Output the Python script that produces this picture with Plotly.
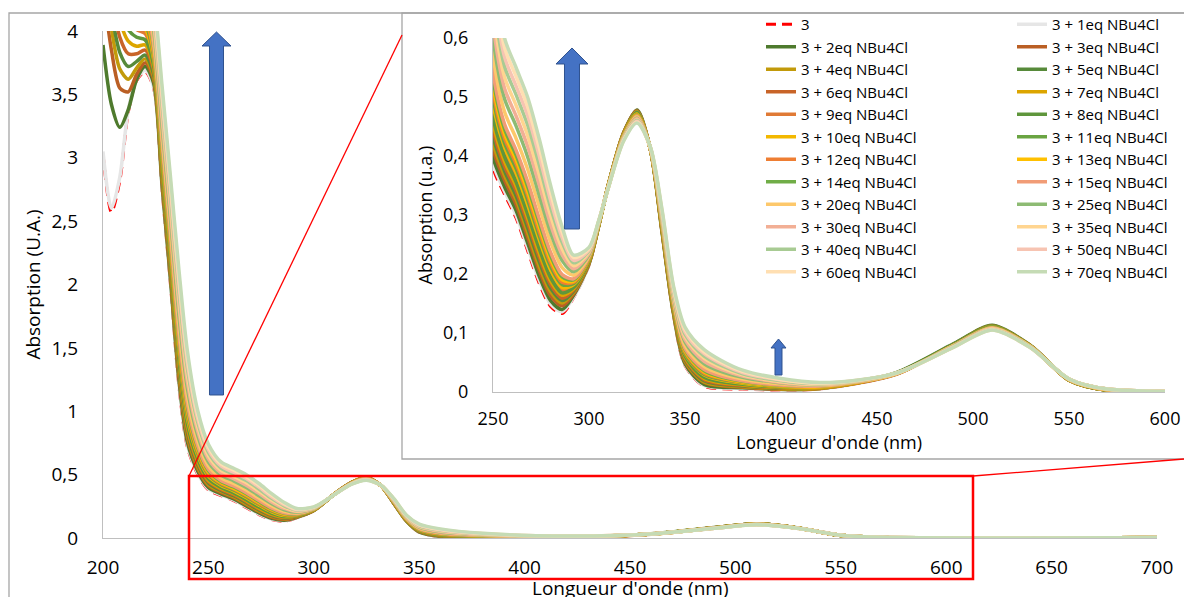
import plotly.graph_objects as go

# ---------------- data ----------------
wavelength_nm = [200, 204, 208, 212, 216, 220, 224, 228, 232, 236, 240, 245, 250, 256, 262, 268, 274, 280,
                 286, 292, 300, 305, 310, 318, 325, 332, 338, 344, 350, 360, 380, 420, 460, 490, 510, 530,
                 550, 570, 700]

abs_3 = [3.03, 2.57, 2.82, 3.36, 3.61, 3.68, 3.55, 2.75, 2.00, 1.20, 0.72, 0.50, 0.38, 0.335, 0.295, 0.24, 0.185, 0.145, 0.133, 0.16, 0.215, 0.28, 0.35, 0.44, 0.477, 0.41, 0.27, 0.13, 0.045, 0.010, 0.005, 0.005, 0.030, 0.080, 0.111, 0.078, 0.020, 0.003, 0.002]
abs_1eq = [3.05, 2.60, 2.85, 3.38, 3.62, 3.69, 3.56, 2.77, 2.02, 1.22, 0.735, 0.51, 0.387, 0.340, 0.300, 0.245, 0.190, 0.149, 0.136, 0.161, 0.216, 0.280, 0.350, 0.440, 0.477, 0.410, 0.271, 0.131, 0.046, 0.011, 0.006, 0.005, 0.030, 0.080, 0.111, 0.078, 0.020, 0.003, 0.002]
abs_2eq = [3.89, 3.42, 3.24, 3.38, 3.62, 3.72, 3.59, 2.79, 2.04, 1.25, 0.758, 0.525, 0.398, 0.348, 0.308, 0.253, 0.197, 0.155, 0.140, 0.164, 0.217, 0.281, 0.350, 0.439, 0.478, 0.411, 0.272, 0.133, 0.048, 0.013, 0.007, 0.006, 0.033, 0.082, 0.113, 0.079, 0.021, 0.003, 0.002]
abs_3eq = [4.35, 3.85, 3.55, 3.52, 3.66, 3.75, 3.62, 2.82, 2.08, 1.28, 0.788, 0.545, 0.412, 0.359, 0.318, 0.263, 0.207, 0.163, 0.146, 0.166, 0.218, 0.281, 0.350, 0.439, 0.477, 0.411, 0.274, 0.135, 0.051, 0.016, 0.008, 0.006, 0.031, 0.081, 0.112, 0.078, 0.020, 0.003, 0.002]
abs_4eq = [4.55, 4.02, 3.70, 3.62, 3.71, 3.78, 3.64, 2.85, 2.10, 1.31, 0.811, 0.56, 0.423, 0.367, 0.326, 0.271, 0.214, 0.170, 0.151, 0.169, 0.219, 0.281, 0.350, 0.438, 0.476, 0.411, 0.275, 0.136, 0.053, 0.017, 0.009, 0.006, 0.031, 0.081, 0.112, 0.078, 0.020, 0.003, 0.002]
abs_5eq = [4.65, 4.15, 3.83, 3.72, 3.76, 3.81, 3.66, 2.87, 2.13, 1.34, 0.834, 0.575, 0.434, 0.375, 0.333, 0.279, 0.222, 0.176, 0.155, 0.171, 0.220, 0.282, 0.350, 0.438, 0.476, 0.411, 0.276, 0.138, 0.055, 0.019, 0.010, 0.007, 0.032, 0.081, 0.112, 0.078, 0.021, 0.003, 0.002]
abs_6eq = [4.75, 4.28, 3.95, 3.82, 3.82, 3.85, 3.69, 2.90, 2.15, 1.37, 0.857, 0.59, 0.445, 0.383, 0.341, 0.287, 0.229, 0.182, 0.159, 0.173, 0.220, 0.282, 0.350, 0.437, 0.475, 0.411, 0.277, 0.139, 0.057, 0.021, 0.011, 0.007, 0.030, 0.080, 0.111, 0.078, 0.020, 0.003, 0.002]
abs_7eq = [4.85, 4.40, 4.08, 3.92, 3.88, 3.89, 3.71, 2.92, 2.18, 1.39, 0.880, 0.605, 0.456, 0.391, 0.349, 0.295, 0.236, 0.188, 0.164, 0.175, 0.221, 0.282, 0.350, 0.437, 0.475, 0.411, 0.278, 0.141, 0.059, 0.023, 0.012, 0.007, 0.031, 0.080, 0.111, 0.078, 0.020, 0.003, 0.002]
abs_9eq = [5.00, 4.60, 4.30, 4.10, 4.01, 3.98, 3.75, 2.97, 2.23, 1.45, 0.925, 0.635, 0.477, 0.407, 0.364, 0.310, 0.251, 0.200, 0.173, 0.179, 0.223, 0.283, 0.349, 0.436, 0.474, 0.412, 0.281, 0.144, 0.063, 0.027, 0.014, 0.008, 0.031, 0.080, 0.110, 0.078, 0.021, 0.004, 0.003]
abs_8eq = [4.92, 4.50, 4.19, 4.01, 3.95, 3.93, 3.73, 2.95, 2.20, 1.42, 0.902, 0.62, 0.466, 0.399, 0.356, 0.302, 0.244, 0.194, 0.168, 0.177, 0.222, 0.282, 0.350, 0.436, 0.474, 0.411, 0.280, 0.142, 0.061, 0.025, 0.013, 0.008, 0.032, 0.081, 0.111, 0.078, 0.020, 0.003, 0.002]
abs_10eq = [5.05, 4.68, 4.40, 4.18, 4.07, 4.02, 3.78, 3.00, 2.26, 1.48, 0.948, 0.65, 0.488, 0.415, 0.372, 0.318, 0.259, 0.207, 0.177, 0.182, 0.224, 0.283, 0.348, 0.436, 0.471, 0.412, 0.282, 0.145, 0.065, 0.029, 0.015, 0.008, 0.031, 0.079, 0.110, 0.077, 0.021, 0.004, 0.003]
abs_11eq = [5.10, 4.75, 4.48, 4.26, 4.13, 4.06, 3.80, 3.02, 2.28, 1.50, 0.971, 0.665, 0.499, 0.422, 0.379, 0.326, 0.266, 0.213, 0.182, 0.184, 0.225, 0.283, 0.348, 0.435, 0.470, 0.412, 0.283, 0.147, 0.066, 0.030, 0.016, 0.009, 0.031, 0.079, 0.110, 0.077, 0.021, 0.004, 0.003]
abs_12eq = [5.15, 4.82, 4.56, 4.33, 4.19, 4.10, 3.82, 3.05, 2.31, 1.53, 0.994, 0.68, 0.510, 0.430, 0.387, 0.334, 0.273, 0.219, 0.186, 0.186, 0.226, 0.284, 0.348, 0.435, 0.469, 0.412, 0.284, 0.148, 0.068, 0.032, 0.017, 0.009, 0.031, 0.079, 0.109, 0.077, 0.021, 0.004, 0.003]
abs_13eq = [5.20, 4.88, 4.63, 4.40, 4.25, 4.15, 3.84, 3.07, 2.33, 1.56, 1.016, 0.695, 0.520, 0.438, 0.394, 0.341, 0.281, 0.225, 0.190, 0.188, 0.227, 0.284, 0.348, 0.434, 0.469, 0.412, 0.286, 0.150, 0.070, 0.034, 0.017, 0.009, 0.031, 0.079, 0.109, 0.077, 0.021, 0.004, 0.003]
abs_14eq = [5.25, 4.94, 4.70, 4.47, 4.31, 4.19, 3.87, 3.09, 2.36, 1.59, 1.039, 0.71, 0.531, 0.446, 0.402, 0.349, 0.288, 0.231, 0.195, 0.190, 0.228, 0.284, 0.348, 0.434, 0.468, 0.412, 0.287, 0.151, 0.072, 0.036, 0.018, 0.010, 0.031, 0.079, 0.109, 0.077, 0.021, 0.004, 0.003]
abs_15eq = [5.30, 5.00, 4.76, 4.53, 4.37, 4.23, 3.89, 3.12, 2.38, 1.61, 1.062, 0.725, 0.542, 0.454, 0.410, 0.357, 0.295, 0.237, 0.199, 0.192, 0.229, 0.285, 0.348, 0.433, 0.468, 0.412, 0.288, 0.153, 0.074, 0.038, 0.019, 0.010, 0.031, 0.079, 0.109, 0.077, 0.021, 0.004, 0.003]
abs_20eq = [5.40, 5.10, 4.88, 4.65, 4.48, 4.32, 3.95, 3.18, 2.45, 1.69, 1.123, 0.765, 0.571, 0.475, 0.430, 0.378, 0.315, 0.254, 0.211, 0.198, 0.231, 0.285, 0.348, 0.432, 0.466, 0.412, 0.291, 0.157, 0.079, 0.043, 0.022, 0.011, 0.031, 0.079, 0.108, 0.077, 0.021, 0.004, 0.003]
abs_25eq = [5.50, 5.20, 4.98, 4.75, 4.58, 4.40, 4.01, 3.25, 2.52, 1.76, 1.184, 0.805, 0.600, 0.497, 0.451, 0.399, 0.334, 0.270, 0.223, 0.204, 0.233, 0.286, 0.346, 0.431, 0.464, 0.413, 0.294, 0.161, 0.085, 0.048, 0.025, 0.012, 0.032, 0.078, 0.107, 0.076, 0.022, 0.005, 0.003]
abs_30eq = [5.60, 5.30, 5.05, 4.82, 4.65, 4.47, 4.06, 3.31, 2.58, 1.83, 1.237, 0.84, 0.625, 0.515, 0.468, 0.417, 0.352, 0.284, 0.233, 0.209, 0.235, 0.287, 0.346, 0.430, 0.463, 0.413, 0.297, 0.164, 0.089, 0.052, 0.027, 0.012, 0.032, 0.077, 0.107, 0.076, 0.022, 0.005, 0.004]
abs_35eq = [5.70, 5.40, 5.12, 4.88, 4.70, 4.53, 4.11, 3.37, 2.64, 1.89, 1.29, 0.875, 0.650, 0.534, 0.486, 0.435, 0.369, 0.299, 0.243, 0.214, 0.238, 0.288, 0.346, 0.429, 0.461, 0.413, 0.300, 0.168, 0.094, 0.057, 0.029, 0.013, 0.032, 0.077, 0.107, 0.076, 0.022, 0.005, 0.004]
abs_40eq = [5.80, 5.50, 5.20, 4.95, 4.75, 4.58, 4.17, 3.42, 2.70, 1.95, 1.343, 0.91, 0.675, 0.552, 0.504, 0.453, 0.386, 0.313, 0.254, 0.219, 0.240, 0.288, 0.346, 0.428, 0.460, 0.414, 0.303, 0.171, 0.098, 0.061, 0.031, 0.014, 0.032, 0.077, 0.106, 0.076, 0.022, 0.005, 0.004]
abs_50eq = [5.90, 5.60, 5.28, 5.00, 4.80, 4.62, 4.21, 3.47, 2.75, 2.01, 1.389, 0.94, 0.697, 0.568, 0.519, 0.469, 0.401, 0.325, 0.262, 0.223, 0.241, 0.289, 0.346, 0.427, 0.459, 0.414, 0.305, 0.174, 0.102, 0.065, 0.033, 0.015, 0.032, 0.077, 0.106, 0.075, 0.022, 0.005, 0.004]
abs_60eq = [6.00, 5.70, 5.35, 5.05, 4.85, 4.66, 4.26, 3.52, 2.80, 2.06, 1.434, 0.97, 0.718, 0.584, 0.535, 0.484, 0.415, 0.338, 0.271, 0.228, 0.243, 0.289, 0.346, 0.426, 0.457, 0.414, 0.308, 0.177, 0.106, 0.068, 0.035, 0.015, 0.032, 0.076, 0.105, 0.075, 0.022, 0.005, 0.004]
abs_70eq = [6.10, 5.80, 5.40, 5.10, 4.90, 4.70, 4.30, 3.57, 2.85, 2.12, 1.48, 1.00, 0.74, 0.60, 0.55, 0.50, 0.43, 0.35, 0.28, 0.232, 0.245, 0.29, 0.345, 0.425, 0.456, 0.415, 0.31, 0.18, 0.11, 0.072, 0.037, 0.016, 0.032, 0.076, 0.105, 0.075, 0.022, 0.005, 0.004]

series_names = ["3", "3 + 1eq NBu4Cl", "3 + 2eq NBu4Cl", "3 + 3eq NBu4Cl", "3 + 4eq NBu4Cl",
                "3 + 5eq NBu4Cl", "3 + 6eq NBu4Cl", "3 + 7eq NBu4Cl", "3 + 9eq NBu4Cl", "3 + 8eq NBu4Cl",
                "3 + 10eq NBu4Cl", "3 + 11eq NBu4Cl", "3 + 12eq NBu4Cl", "3 + 13eq NBu4Cl", "3 + 14eq NBu4Cl",
                "3 + 15eq NBu4Cl", "3 + 20eq NBu4Cl", "3 + 25eq NBu4Cl", "3 + 30eq NBu4Cl", "3 + 35eq NBu4Cl",
                "3 + 40eq NBu4Cl", "3 + 50eq NBu4Cl", "3 + 60eq NBu4Cl", "3 + 70eq NBu4Cl"]
series_values = [abs_3, abs_1eq, abs_2eq, abs_3eq, abs_4eq, abs_5eq, abs_6eq, abs_7eq, abs_9eq, abs_8eq,
                 abs_10eq, abs_11eq, abs_12eq, abs_13eq, abs_14eq, abs_15eq, abs_20eq, abs_25eq, abs_30eq,
                 abs_35eq, abs_40eq, abs_50eq, abs_60eq, abs_70eq]

main_x_ticks = [200, 250, 300, 350, 400, 450, 500, 550, 600, 650, 700]
main_x_labels = ["200", "250", "300", "350", "400", "450", "500", "550", "600", "650", "700"]
main_y_ticks = [0, 0.5, 1, 1.5, 2, 2.5, 3, 3.5, 4]
main_y_labels = ["0", "0,5", "1", "1,5", "2", "2,5", "3", "3,5", "4"]
inset_x_ticks = [250, 300, 350, 400, 450, 500, 550, 600]
inset_x_labels = ["250", "300", "350", "400", "450", "500", "550", "600"]
inset_y_ticks = [0, 0.1, 0.2, 0.3, 0.4, 0.5, 0.6]
inset_y_labels = ["0", "0,1", "0,2", "0,3", "0,4", "0,5", "0,6"]

main_x_title = "Longueur d'onde (nm)"

# ---------------- styles ----------------
line_colors = ["#FF0000", "#E6E6E6", "#4E7A2D", "#BA5F24", "#C29A0A", "#578A3A", "#C86428", "#DCA500",
               "#E07A35", "#5F963C", "#F3B800", "#6AA442", "#EE7E33", "#FFC000", "#70AD47", "#F19C76",
               "#FDC86B", "#8DBB73", "#F2AF95", "#FFD590", "#A8CB93", "#F7C4B2", "#FFDFB2", "#C5DBB5"]

W, H = 1184, 597
FONT = "Open Sans"


def px(x):
    return x / W


def py(y):
    return 1 - y / H


fig = go.Figure()

for k, (name, vals) in enumerate(zip(series_names, series_values)):
    dash = "10px,6px" if k == 0 else "solid"
    width = 3 if k == 0 else 3.5
    fig.add_trace(go.Scatter(x=wavelength_nm, y=vals, mode="lines", name=name,
                             line=dict(color=line_colors[k], width=width, dash=dash, shape="spline", smoothing=0.8),
                             xaxis="x", yaxis="y", showlegend=False, hoverinfo="skip"))

for k, (name, vals) in enumerate(zip(series_names, series_values)):
    dash = "10px,6px" if k == 0 else "solid"
    width = 3 if k == 0 else 3.5
    fig.add_trace(go.Scatter(x=wavelength_nm, y=vals, mode="lines", name=name,
                             line=dict(color=line_colors[k], width=width, dash=dash, shape="spline", smoothing=0.8),
                             xaxis="x2", yaxis="y2", showlegend=True,
                             legend="legend" if k % 2 == 0 else "legend2"))

axis_common = dict(showgrid=False, zeroline=False, showline=True, linecolor="#BFBFBF", linewidth=1.3,
                   ticks="", automargin=False)

fig.update_layout(
    width=W, height=H,
    margin=dict(l=0, r=0, t=0, b=0),
    paper_bgcolor="white",
    plot_bgcolor="rgba(0,0,0,0)",
    font=dict(family=FONT, color="#000000"),
    xaxis=dict(domain=[px(103), px(1157)], range=[200, 700], anchor="y",
               tickvals=main_x_ticks, ticktext=main_x_labels, tickfont=dict(size=19),
               ticklabelstandoff=12, **axis_common),
    yaxis=dict(domain=[py(538), py(31)], range=[0, 4], anchor="x",
               tickvals=main_y_ticks, ticktext=main_y_labels, tickfont=dict(size=19),
               ticklabelstandoff=20,
               title=dict(text="Absorption (U.A.)", font=dict(size=19), standoff=5), **axis_common),
    xaxis2=dict(domain=[px(493), px(1165)], range=[250, 600], anchor="y2",
                tickvals=inset_x_ticks, ticktext=inset_x_labels, tickfont=dict(size=18),
                ticklabelstandoff=10,
                title=dict(text="Longueur d'onde (nm)", font=dict(size=18), standoff=0), **axis_common),
    yaxis2=dict(domain=[py(392), py(38)], range=[0, 0.6], anchor="x2",
                tickvals=inset_y_ticks, ticktext=inset_y_labels, tickfont=dict(size=18),
                ticklabelstandoff=20,
                title=dict(text="Absorption (u.a.)", font=dict(size=18), standoff=5), **axis_common),
    legend=dict(x=px(761), y=py(8), xanchor="left", yanchor="top", bgcolor="rgba(0,0,0,0)",
                font=dict(size=15, family=FONT), traceorder="normal", tracegroupgap=0),
    legend2=dict(x=px(1012), y=py(8), xanchor="left", yanchor="top", bgcolor="rgba(0,0,0,0)",
                 font=dict(size=15, family=FONT), traceorder="normal", tracegroupgap=0),
    annotations=[dict(text=main_x_title, xref="paper", yref="paper", x=px(630), y=py(588),
                      xanchor="center", yanchor="middle", showarrow=False, font=dict(size=19))],
)


def arrow_path(cx, tip_y, head_y, bottom_y, shaft_w, head_w):
    pts = [(cx - shaft_w / 2, bottom_y), (cx - shaft_w / 2, head_y), (cx - head_w / 2, head_y),
           (cx, tip_y), (cx + head_w / 2, head_y), (cx + shaft_w / 2, head_y), (cx + shaft_w / 2, bottom_y)]
    return "M" + " L".join(f"{px(x):.5f},{py(y):.5f}" for x, y in pts) + " Z"


shapes = [
    # outer chart frame
    dict(type="rect", xref="paper", yref="paper", x0=px(9), y0=py(13), x1=px(1200), y1=py(620),
         line=dict(color="#A6A6A6", width=1.3), layer="above"),
    # inset frame
    dict(type="rect", xref="paper", yref="paper", x0=px(402), y0=py(13), x1=px(1200), y1=py(459),
         line=dict(color="#A6A6A6", width=1.3), layer="above"),
    # zoom rectangle and connectors
    dict(type="rect", xref="paper", yref="paper", x0=px(189), y0=py(476), x1=px(973), y1=py(579),
         line=dict(color="#FF0000", width=2.5), layer="above"),
    dict(type="line", xref="paper", yref="paper", x0=px(189), y0=py(476), x1=px(402), y1=py(35),
         line=dict(color="#FF0000", width=1.3), layer="above"),
    dict(type="line", xref="paper", yref="paper", x0=px(973), y0=py(476), x1=px(1184), y1=py(459),
         line=dict(color="#FF0000", width=1.3), layer="above"),
    # blue arrows
    dict(type="path", xref="paper", yref="paper", path=arrow_path(216.5, 32, 46, 395, 14, 29),
         fillcolor="#4472C4", line=dict(color="#2F528F", width=1), layer="above"),
    dict(type="path", xref="paper", yref="paper", path=arrow_path(572, 48, 64, 229, 15, 32),
         fillcolor="#4472C4", line=dict(color="#2F528F", width=1), layer="above"),
    dict(type="path", xref="paper", yref="paper", path=arrow_path(778.5, 339, 348, 375, 7, 15),
         fillcolor="#4472C4", line=dict(color="#2F528F", width=1), layer="above"),
]
fig.update_layout(shapes=shapes)

fig.write_html("out.html", config={"displayModeBar": False},
               post_script="document.body.style.margin='0px'; document.body.style.overflow='hidden';")
